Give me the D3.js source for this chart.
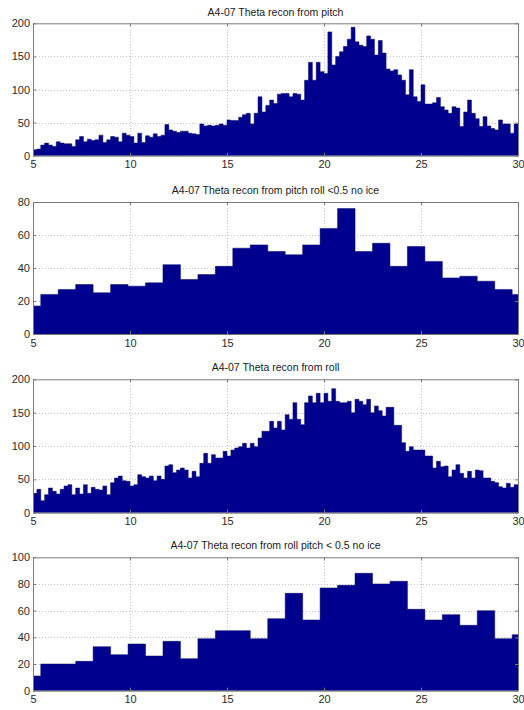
<!DOCTYPE html>
<meta charset="utf-8">
<script src="https://d3js.org/d3.v7.min.js"></script>
<style>
body { margin: 0; background: #fff; }
text { font-family: "Liberation Sans", Arial, sans-serif; }
.grid line { stroke: #c4c4c4; stroke-dasharray: 1,2; shape-rendering: crispEdges; }
.axis path, .axis line { stroke: #7a7a7a; }
.axis text { fill: #2a2a2a; font-size: 11px; }
</style>
<body>
<script>
// x ticks shared by all four panels
var xTicks = [5, 10, 15, 20, 25, 30];

// fine histograms: bins of 0.2 starting at 5
var fineStart = 5, fineWidth = 0.2;
// coarse histograms: bins of 0.9 starting at 4.5
var coarseStart = 4.5, coarseWidth = 0.9;

var pitchCounts = [9,10,16,19,16,14,21,19,18,18,14,24,29,21,25,23,24,31,20,24,
  29,28,21,34,31,29,19,34,20,30,28,33,29,31,47,
  39,37,35,37,37,34,33,32,48,45,46,45,46,48,46,54,53,53,58,62,
  64,48,64,89,66,76,84,79,93,94,94,89,94,93,84,114,141,114,141,127,
  124,187,137,150,157,
  165,176,194,172,167,165,181,176,152,174,155,131,128,130,122,114,92,130,89,82,
  107,78,78,80,88,74,69,64,74,72,44,66,84,64,56,44,59,45,41,39,
  54,48,48,34,48];

var pitchRollCounts = [17,24,27,30,25,30,29,31,42,33,36,41,52,54,50,48,54,64,76,50,
  55,41,53,44,34,35,32,27,24];

var rollCounts = [29,35,18,27,37,32,28,35,40,42,27,37,28,42,29,38,35,34,40,27,
  45,52,55,48,47,40,42,57,54,52,55,48,55,50,70,72,
  60,64,67,64,52,62,54,74,89,74,87,82,82,92,85,94,97,99,104,97,
  104,99,112,122,122,137,127,137,124,147,140,165,140,132,165,175,165,179,165,179,
  167,186,167,165,
  165,167,150,170,167,162,170,150,160,153,145,158,158,131,131,105,92,99,94,94,
  94,85,85,67,77,69,70,54,64,72,59,52,62,52,64,63,52,52,47,45,
  39,37,44,38,42];

var rollPitchCounts = [11,20,20,22,33,27,35,26,37,24,39,45,45,39,54,73,53,77,79,88,
  80,82,61,53,57,49,60,39,42];

var panels = [
  {title: "A4-07 Theta recon from pitch", counts: pitchCounts, start: fineStart, width: fineWidth,
   yTicks: [0, 50, 100, 150, 200], titleY: 12, top: 23.3, bottom: 155.7},
  {title: "A4-07 Theta recon from pitch roll <0.5 no ice", counts: pitchRollCounts, start: coarseStart, width: coarseWidth,
   yTicks: [0, 20, 40, 60, 80], titleY: 190, top: 202, bottom: 334},
  {title: "A4-07 Theta recon from roll", counts: rollCounts, start: fineStart, width: fineWidth,
   yTicks: [0, 50, 100, 150, 200], titleY: 367, top: 379.3, bottom: 512.7},
  {title: "A4-07 Theta recon from roll pitch < 0.5 no ice", counts: rollPitchCounts, start: coarseStart, width: coarseWidth,
   yTicks: [0, 20, 40, 60, 80, 100], titleY: 545, top: 557.3, bottom: 690.7}
];

var left = 33, right = 518;

var svg = d3.select("body").append("svg")
    .attr("width", 524)
    .attr("height", 710);

panels.forEach(function(p, k) {
  var x = d3.scaleLinear().domain([5, 30]).range([left, right]);
  var y = d3.scaleLinear().domain([0, d3.max(p.yTicks)]).range([p.bottom, p.top]);
  var g = svg.append("g");

  // dotted grid
  g.append("g").attr("class", "grid")
    .selectAll("line").data(xTicks.slice(1, -1)).enter().append("line")
    .attr("x1", function(d) { return Math.round(x(d)) + 0.5; })
    .attr("x2", function(d) { return Math.round(x(d)) + 0.5; })
    .attr("y1", p.top).attr("y2", p.bottom);
  g.append("g").attr("class", "grid")
    .selectAll("line").data(p.yTicks.slice(1, -1)).enter().append("line")
    .attr("y1", function(d) { return Math.round(y(d)) + 0.5; })
    .attr("y2", function(d) { return Math.round(y(d)) + 0.5; })
    .attr("x1", left).attr("x2", right);

  // clip bars to the axes box
  svg.append("clipPath").attr("id", "clip" + k)
    .append("rect").attr("x", left).attr("y", p.top)
    .attr("width", right - left).attr("height", p.bottom - p.top);

  // bin edges; last point repeats the final count so the step closes
  var steps = p.counts.map(function(c, i) {
    return {x: p.start + i * p.width, n: c};
  });
  steps.push({x: p.start + p.counts.length * p.width, n: p.counts[p.counts.length - 1]});

  var area = d3.area()
    .curve(d3.curveStepAfter)
    .x(function(d) { return x(d.x); })
    .y0(p.bottom)
    .y1(function(d) { return y(d.n); });

  g.append("path")
    .datum(steps)
    .attr("clip-path", "url(#clip" + k + ")")
    .attr("d", area)
    .attr("fill", "#00008f")
    .attr("stroke", "#000060")
    .attr("stroke-width", 0.5);

  // axes with inward ticks, box style
  g.append("g").attr("class", "axis")
    .attr("transform", "translate(0," + p.bottom + ")")
    .call(d3.axisBottom(x).tickValues(xTicks).tickSize(-3).tickPadding(5).tickSizeOuter(0));
  g.append("g").attr("class", "axis")
    .attr("transform", "translate(0," + p.top + ")")
    .call(d3.axisTop(x).tickValues(xTicks).tickSize(-3).tickFormat("").tickSizeOuter(0));
  g.append("g").attr("class", "axis")
    .attr("transform", "translate(" + left + ",0)")
    .call(d3.axisLeft(y).tickValues(p.yTicks).tickSize(-3).tickPadding(3).tickSizeOuter(0));
  g.append("g").attr("class", "axis")
    .attr("transform", "translate(" + right + ",0)")
    .call(d3.axisRight(y).tickValues(p.yTicks).tickSize(-3).tickFormat("").tickSizeOuter(0));

  g.append("text")
    .attr("x", (left + right) / 2)
    .attr("y", p.titleY)
    .attr("dy", "0.35em")
    .attr("text-anchor", "middle")
    .attr("font-size", "10.5px")
    .attr("fill", "#1a1a1a")
    .text(p.title);
});
</script>
</body>
